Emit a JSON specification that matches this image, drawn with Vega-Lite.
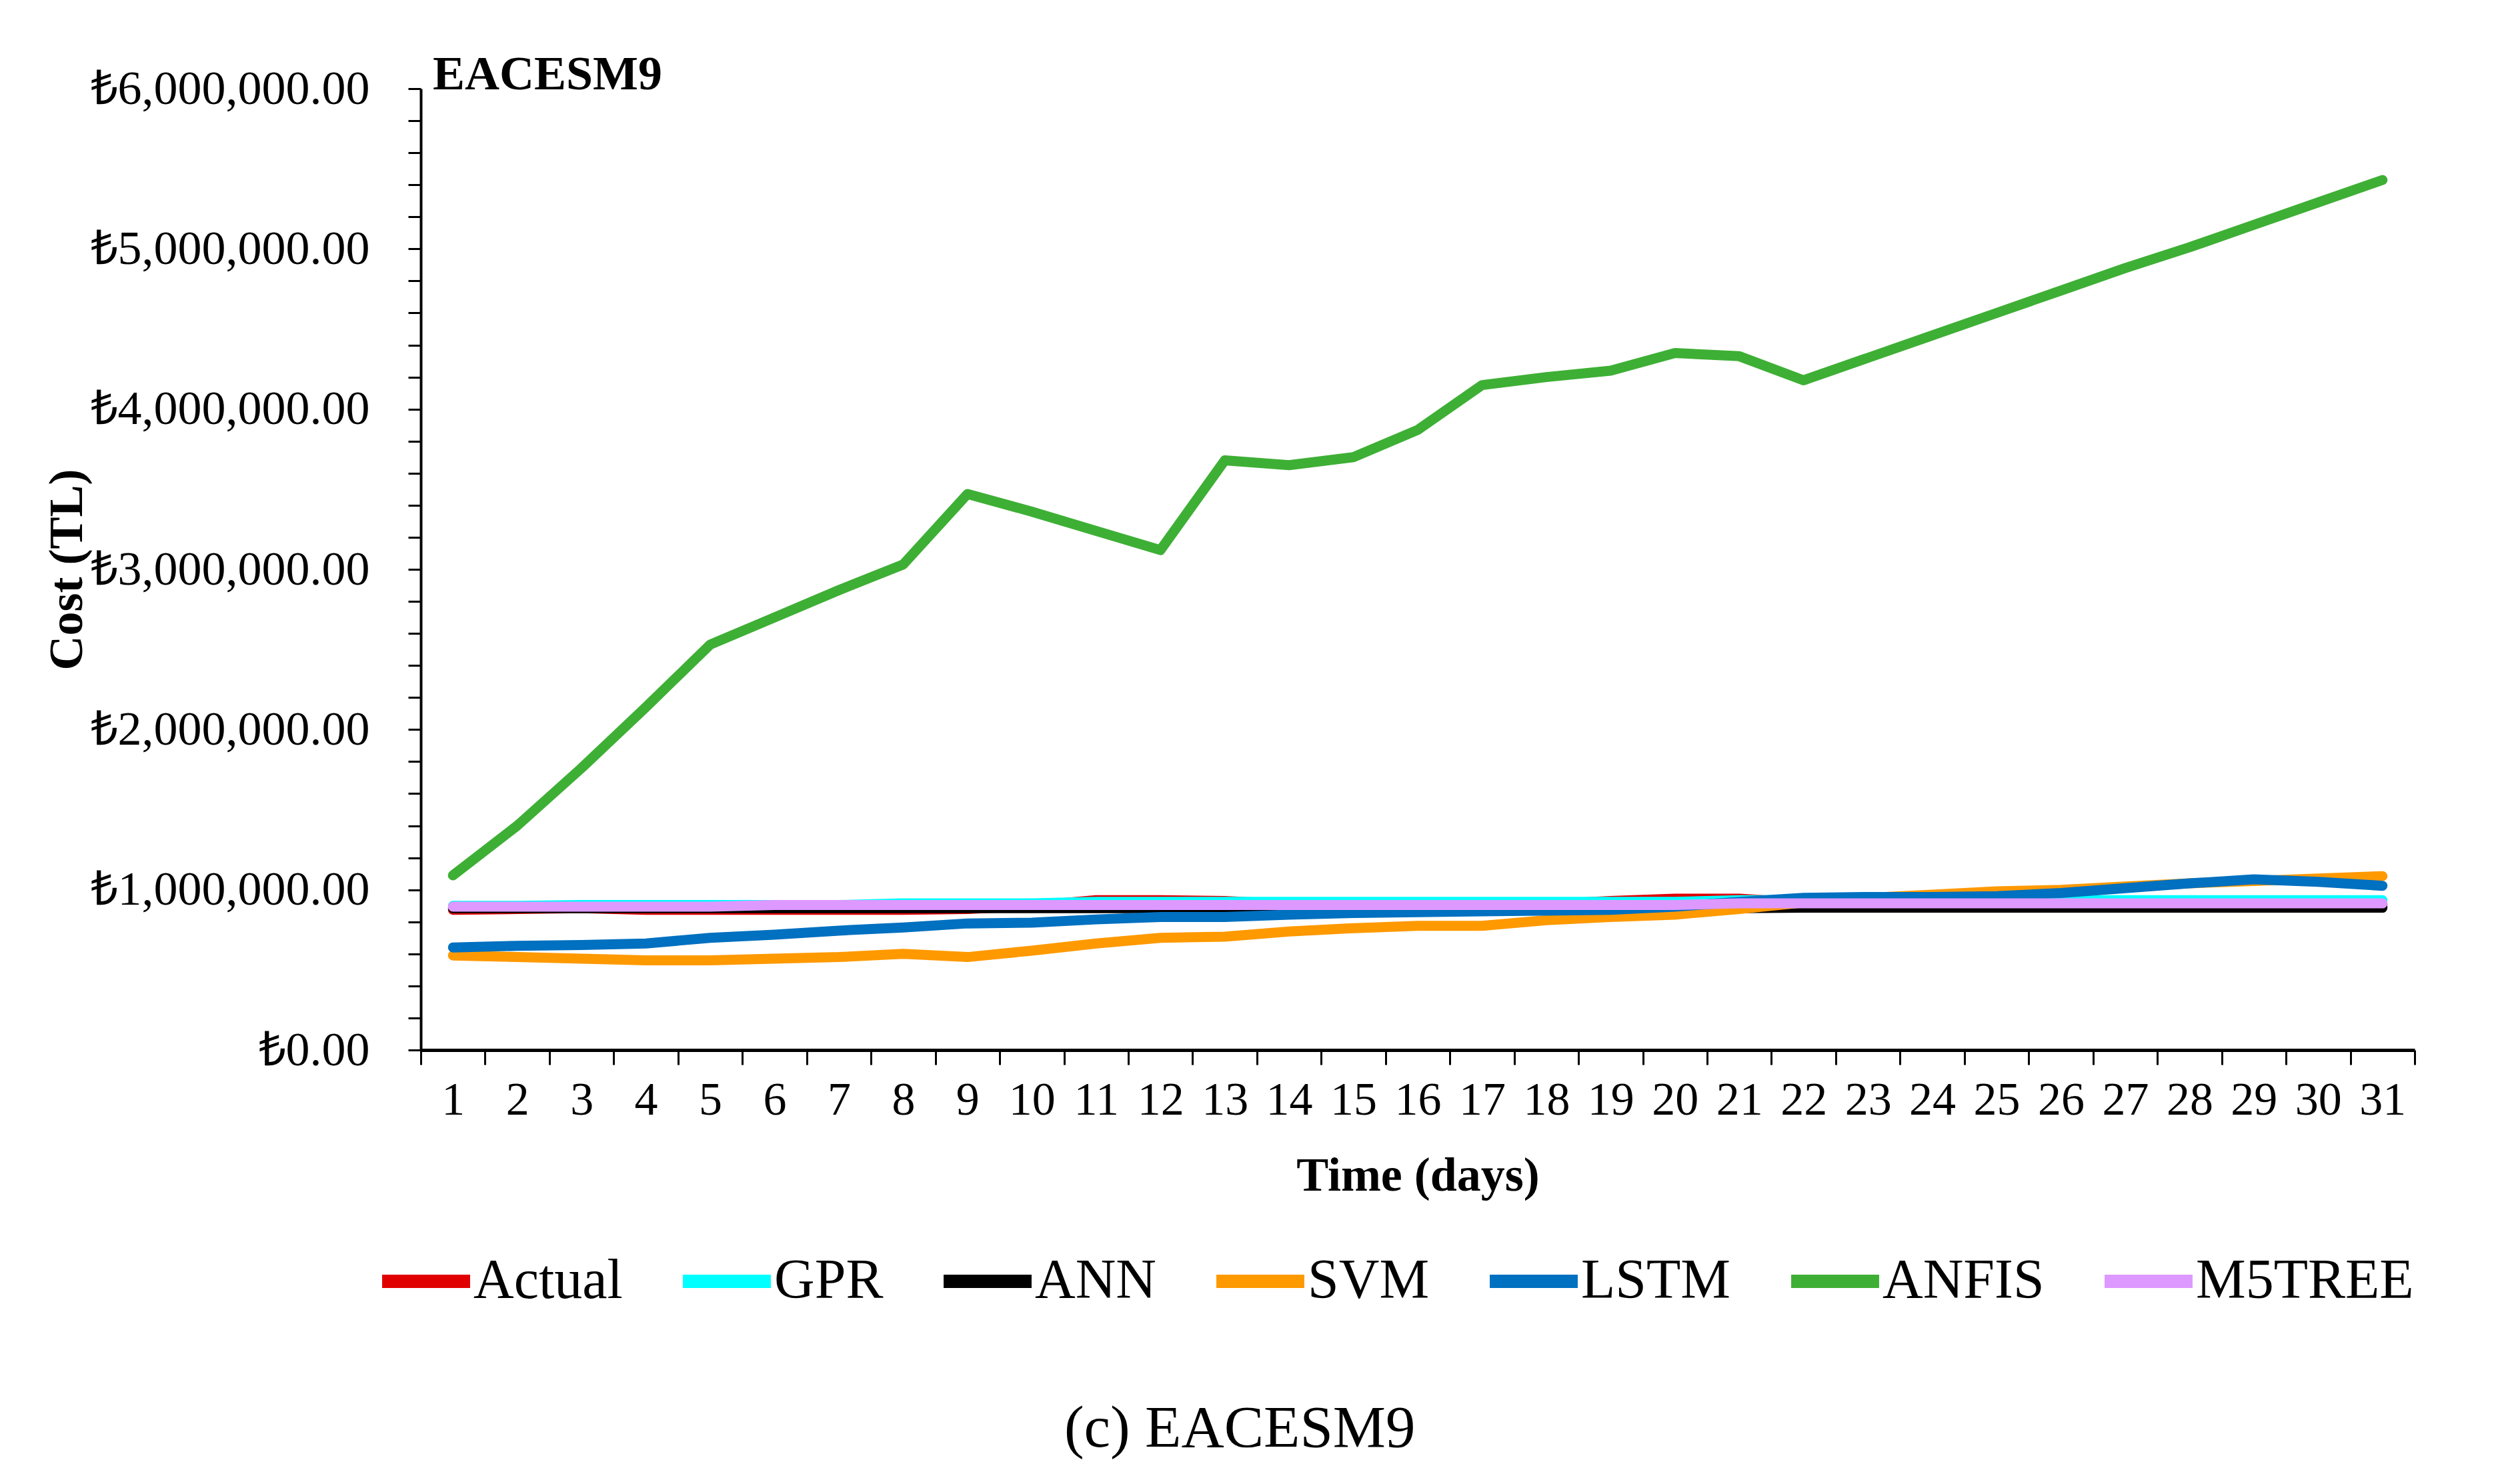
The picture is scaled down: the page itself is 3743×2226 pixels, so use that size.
{
  "$schema": "https://vega.github.io/schema/vega-lite/v6.json",
  "background": "white",
  "padding": {"left": 64, "top": 76, "right": 5, "bottom": 5},
  "title": {"text": "(c) EACESM9", "orient": "bottom", "anchor": "middle", "font": "Liberation Serif", "fontSize": 89, "fontWeight": "normal", "color": "black", "baseline": "alphabetic", "offset": 206, "dx": 16},
  "vconcat": [
    {
      "width": 2990,
      "height": 1442,
      "title": {"text": "EACESM9", "anchor": "start", "frame": "group", "font": "Liberation Serif", "fontSize": 72, "fontWeight": "bold", "color": "black", "baseline": "alphabetic", "dx": 18, "offset": -109},
      "data": {"values": [
        {"day": 1, "Actual": 875000, "GPR": 900000, "ANN": 885000, "SVM": 590000, "LSTM": 640000, "ANFIS": 1090000, "M5TREE": 895000},
        {"day": 2, "Actual": 880000, "GPR": 900000, "ANN": 885000, "SVM": 580000, "LSTM": 650000, "ANFIS": 1400000, "M5TREE": 895000},
        {"day": 3, "Actual": 885000, "GPR": 905000, "ANN": 885000, "SVM": 570000, "LSTM": 655000, "ANFIS": 1760000, "M5TREE": 895000},
        {"day": 4, "Actual": 875000, "GPR": 905000, "ANN": 885000, "SVM": 560000, "LSTM": 665000, "ANFIS": 2140000, "M5TREE": 895000},
        {"day": 5, "Actual": 875000, "GPR": 905000, "ANN": 885000, "SVM": 560000, "LSTM": 700000, "ANFIS": 2530000, "M5TREE": 895000},
        {"day": 6, "Actual": 875000, "GPR": 905000, "ANN": 885000, "SVM": 570000, "LSTM": 720000, "ANFIS": 2700000, "M5TREE": 905000},
        {"day": 7, "Actual": 875000, "GPR": 905000, "ANN": 885000, "SVM": 580000, "LSTM": 745000, "ANFIS": 2870000, "M5TREE": 905000},
        {"day": 8, "Actual": 875000, "GPR": 915000, "ANN": 885000, "SVM": 600000, "LSTM": 765000, "ANFIS": 3030000, "M5TREE": 905000},
        {"day": 9, "Actual": 880000, "GPR": 915000, "ANN": 885000, "SVM": 580000, "LSTM": 790000, "ANFIS": 3470000, "M5TREE": 905000},
        {"day": 10, "Actual": 900000, "GPR": 915000, "ANN": 885000, "SVM": 620000, "LSTM": 795000, "ANFIS": 3360000, "M5TREE": 905000},
        {"day": 11, "Actual": 935000, "GPR": 925000, "ANN": 885000, "SVM": 665000, "LSTM": 815000, "ANFIS": 3240000, "M5TREE": 905000},
        {"day": 12, "Actual": 935000, "GPR": 925000, "ANN": 885000, "SVM": 700000, "LSTM": 830000, "ANFIS": 3120000, "M5TREE": 905000},
        {"day": 13, "Actual": 930000, "GPR": 925000, "ANN": 885000, "SVM": 707000, "LSTM": 830000, "ANFIS": 3680000, "M5TREE": 905000},
        {"day": 14, "Actual": 910000, "GPR": 925000, "ANN": 885000, "SVM": 740000, "LSTM": 845000, "ANFIS": 3650000, "M5TREE": 905000},
        {"day": 15, "Actual": 900000, "GPR": 925000, "ANN": 885000, "SVM": 760000, "LSTM": 855000, "ANFIS": 3700000, "M5TREE": 905000},
        {"day": 16, "Actual": 900000, "GPR": 925000, "ANN": 885000, "SVM": 775000, "LSTM": 860000, "ANFIS": 3870000, "M5TREE": 905000},
        {"day": 17, "Actual": 900000, "GPR": 925000, "ANN": 885000, "SVM": 775000, "LSTM": 865000, "ANFIS": 4150000, "M5TREE": 905000},
        {"day": 18, "Actual": 910000, "GPR": 925000, "ANN": 885000, "SVM": 810000, "LSTM": 870000, "ANFIS": 4200000, "M5TREE": 905000},
        {"day": 19, "Actual": 930000, "GPR": 925000, "ANN": 885000, "SVM": 830000, "LSTM": 875000, "ANFIS": 4240000, "M5TREE": 905000},
        {"day": 20, "Actual": 945000, "GPR": 925000, "ANN": 885000, "SVM": 845000, "LSTM": 895000, "ANFIS": 4350000, "M5TREE": 905000},
        {"day": 21, "Actual": 945000, "GPR": 935000, "ANN": 885000, "SVM": 880000, "LSTM": 925000, "ANFIS": 4330000, "M5TREE": 915000},
        {"day": 22, "Actual": 920000, "GPR": 935000, "ANN": 888000, "SVM": 920000, "LSTM": 950000, "ANFIS": 4180000, "M5TREE": 915000},
        {"day": 23, "Actual": 910000, "GPR": 935000, "ANN": 888000, "SVM": 950000, "LSTM": 955000, "ANFIS": 4320000, "M5TREE": 915000},
        {"day": 24, "Actual": 910000, "GPR": 935000, "ANN": 888000, "SVM": 970000, "LSTM": 955000, "ANFIS": 4460000, "M5TREE": 915000},
        {"day": 25, "Actual": 910000, "GPR": 935000, "ANN": 888000, "SVM": 990000, "LSTM": 960000, "ANFIS": 4600000, "M5TREE": 915000},
        {"day": 26, "Actual": 910000, "GPR": 935000, "ANN": 888000, "SVM": 1000000, "LSTM": 980000, "ANFIS": 4740000, "M5TREE": 915000},
        {"day": 27, "Actual": 910000, "GPR": 935000, "ANN": 888000, "SVM": 1020000, "LSTM": 1010000, "ANFIS": 4880000, "M5TREE": 915000},
        {"day": 28, "Actual": 910000, "GPR": 935000, "ANN": 888000, "SVM": 1040000, "LSTM": 1040000, "ANFIS": 5010000, "M5TREE": 915000},
        {"day": 29, "Actual": 910000, "GPR": 935000, "ANN": 888000, "SVM": 1055000, "LSTM": 1065000, "ANFIS": 5150000, "M5TREE": 915000},
        {"day": 30, "Actual": 910000, "GPR": 935000, "ANN": 888000, "SVM": 1070000, "LSTM": 1050000, "ANFIS": 5290000, "M5TREE": 915000},
        {"day": 31, "Actual": 910000, "GPR": 935000, "ANN": 888000, "SVM": 1085000, "LSTM": 1025000, "ANFIS": 5430000, "M5TREE": 915000}
      ]},
      "transform": [{"fold": ["Actual", "GPR", "ANN", "SVM", "LSTM", "ANFIS", "M5TREE"], "as": ["model", "cost"]}],
      "mark": {"type": "line", "strokeWidth": 15, "strokeCap": "round", "strokeJoin": "round"},
      "encoding": {
        "x": {
          "field": "day", "type": "ordinal",
          "scale": {"type": "band", "paddingInner": 0, "paddingOuter": 0},
          "axis": {"title": "Time (days)", "tickBand": "extent", "labelAngle": 0, "tickSize": 22, "tickWidth": 3, "domainWidth": 5, "labelFontSize": 70, "labelPadding": 19, "titleFontSize": 72, "titlePadding": 43}
        },
        "y": {
          "field": "cost", "type": "quantitative",
          "scale": {"domain": [0, 6000000], "nice": false, "zero": true},
          "axis": {
            "title": "Cost (TL)",
            "values": [0, 200000, 400000, 600000, 800000, 1000000, 1200000, 1400000, 1600000, 1800000, 2000000, 2200000, 2400000, 2600000, 2800000, 3000000, 3200000, 3400000, 3600000, 3800000, 4000000, 4200000, 4400000, 4600000, 4800000, 5000000, 5200000, 5400000, 5600000, 5800000, 6000000],
            "labelExpr": "datum.value % 1000000 === 0 ? '₺' + format(datum.value, ',.2f') : ''",
            "tickSize": 19, "tickWidth": 3, "domainWidth": 4,
            "labelFontSize": 72, "labelPadding": 58, "labelLimit": 1000,
            "titleFontSize": 72, "titleX": -531, "titleBaseline": "middle"
          }
        },
        "color": {
          "field": "model", "type": "nominal",
          "scale": {"domain": ["Actual", "GPR", "ANN", "SVM", "LSTM", "ANFIS", "M5TREE"], "range": ["#E00000", "#00FFFF", "#000000", "#FF9900", "#0070C0", "#3EAF35", "#DD99FF"]},
          "legend": {"title": null, "orient": "none", "legendX": -68, "legendY": 1713, "direction": "horizontal", "columns": 7, "symbolType": "stroke", "symbolStrokeWidth": 20, "symbolSize": 17400, "labelFont": "Liberation Serif", "labelFontSize": 84, "labelColor": "black", "labelLimit": 1000, "labelOffset": -5, "columnPadding": 50, "padding": 0}
        }
      }
    }
  ],
  "config": {
    "view": {"stroke": null},
    "font": "Liberation Serif",
    "axis": {"grid": false, "labelFont": "Liberation Serif", "titleFont": "Liberation Serif", "labelColor": "black", "titleColor": "black", "domainColor": "black", "tickColor": "black", "titleFontWeight": "bold"}
  }
}
